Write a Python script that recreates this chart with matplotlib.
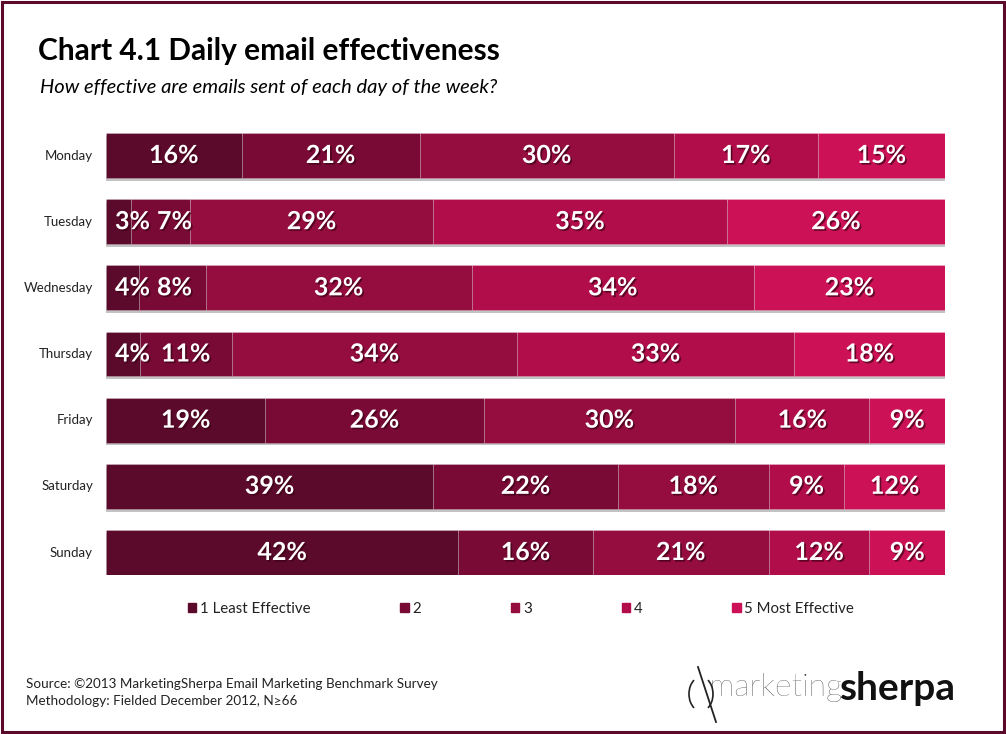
import matplotlib.pyplot as plt
import matplotlib.patheffects as pe
from matplotlib.patches import Rectangle, Arc
from matplotlib.lines import Line2D
import numpy as np

plt.rcParams['font.family'] = ['Lato', 'DejaVu Sans']

# data
days = ['Monday', 'Tuesday', 'Wednesday', 'Thursday', 'Friday', 'Saturday', 'Sunday']
levels = ['1 Least Effective', '2', '3', '4', '5 Most Effective']
least = [16, 3, 4, 4, 19, 39, 42]
two = [21, 7, 8, 11, 26, 22, 16]
three = [30, 29, 32, 34, 30, 18, 21]
four = [17, 35, 34, 33, 16, 9, 12]
most = [15, 26, 23, 18, 9, 12, 9]
colors = ['#5c0a2b', '#780a35', '#950d3f', '#b00d4a', '#cc1156']

series = np.array([least, two, three, four, most], dtype=float)
totals = series.sum(axis=0)
shares = series / totals * 100   # bars fill the full width

W, H = 1006, 734
fig = plt.figure(figsize=(W / 100, H / 100), dpi=100)
ax = fig.add_axes([106 / W, 1 - 575 / H, 839 / W, 442 / H])

y = np.arange(len(days))
bh = 0.68
shadow = [pe.SimplePatchShadow(offset=(0, -2), shadow_rgbFace='#555555', alpha=0.35), pe.Normal()]
left = np.zeros(len(days))
for k in range(len(levels)):
    bars = ax.barh(y, shares[k], left=left, height=bh, color=colors[k],
                   edgecolor=(1, 1, 1, 0.25), linewidth=0.6, label=levels[k])
    for b in bars:
        b.set_path_effects(shadow)
    left += shares[k]

ax.set_xlim(0, 100)
ax.set_ylim(len(days) - 1 + bh / 2, -bh / 2)
ax.axis('off')

for i, d in enumerate(days):
    fig.text(93 / W, 1 - (133 + 22.5 + i * 66.2) / H, d, ha='right', va='center',
             fontsize=9.5, color='#222222')

# value labels, pushed right where small segments would overlap
txt_fx = [pe.withSimplePatchShadow(offset=(1.2, -1.2), shadow_rgbFace='#3a0015', alpha=0.7)]
fig.canvas.draw()
renderer = fig.canvas.get_renderer()
px = 839 / 100.0
for i in range(len(days)):
    start = 0.0
    prev_right = 9 / px
    for k in range(len(levels)):
        c = start + shares[k, i] / 2
        t = ax.text(c, i, f'{int(series[k, i])}%', ha='center', va='center',
                    fontsize=18, fontweight='bold', color='white', path_effects=txt_fx)
        wpx = t.get_window_extent(renderer).width
        half = wpx / 2 / px
        if c - half < prev_right:
            c = prev_right + half
            t.set_x(c)
        prev_right = c + half + 7 / px
        start += shares[k, i]

handles = [Rectangle((0, 0), 1, 1, color=c) for c in colors]
fig.legend(handles, levels, loc='center', bbox_to_anchor=(521 / W, 1 - 609 / H), ncol=5,
           frameon=False, fontsize=10.8, handlelength=0.55, handleheight=0.55,
           handletextpad=0.25, columnspacing=6.0, labelcolor='#222222')

fig.text(38 / W, 1 - 51 / H, 'Chart 4.1 Daily email effectiveness', fontsize=21.5,
         fontweight='bold', color='black', va='center')
fig.text(40 / W, 1 - 87 / H, 'How effective are emails sent of each day of the week?',
         fontsize=14.5, style='italic', color='black', va='center')

fig.text(26 / W, 1 - 684 / H, 'Source: \u00a92013 MarketingSherpa Email Marketing Benchmark Survey',
         fontsize=9.7, color='#222222', va='center')
fig.text(26 / W, 1 - 701 / H, 'Methodology: Fielded December 2012, N\u226566',
         fontsize=9.7, color='#222222', va='center')

# logo
fig.text(709 / W, 1 - 688 / H, 'marketing', fontsize=23, fontweight='light',
         color='#222222', va='center')
fig.text(839 / W, 1 - 688 / H, 'sherpa', fontsize=28, fontweight='bold',
         color='#111111', va='center')
cx, cy = 701 / W, 1 - 694 / H
fig.add_artist(Arc((cx, cy), 24 / W, 34 / H, theta1=110, theta2=250, color='#222222', lw=1.2))
fig.add_artist(Arc((cx, cy), 24 / W, 34 / H, theta1=-70, theta2=70, color='#222222', lw=1.2))
fig.add_artist(Line2D([698 / W, 716 / W], [1 - 667 / H, 1 - 722 / H], color='#222222', lw=1.3))

fig.add_artist(Rectangle((2 / W, 2 / H), 1 - 4 / W, 1 - 4 / H, fill=False,
                         edgecolor='#5c0a2b', linewidth=2.2))

fig.savefig('out.png', dpi=100)
